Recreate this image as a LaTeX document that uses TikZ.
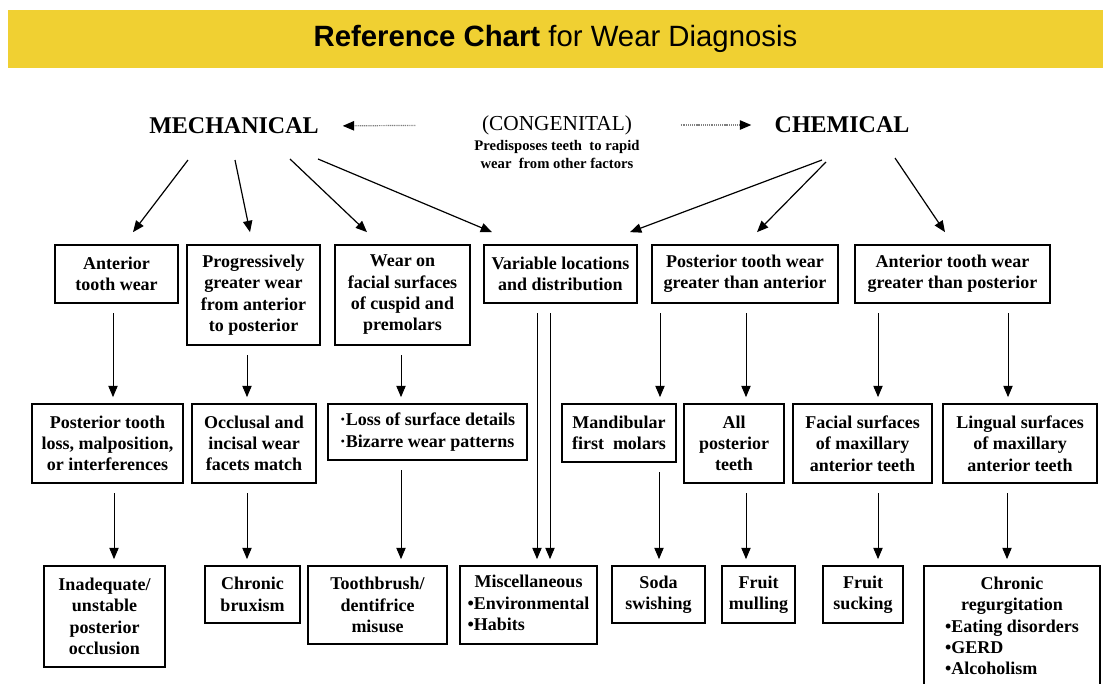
\documentclass[tikz,border=0pt]{standalone}
\usepackage{fontspec}
\setmainfont{Liberation Serif}
\setsansfont{Liberation Sans}
\usetikzlibrary{positioning,arrows.meta,calc}
\definecolor{titleyellow}{RGB}{240,208,50}
\tikzset{
	box/.style={draw, line width=1.3pt, align=center, inner sep=0pt, font=\fontsize{13.5}{16}\selectfont\bfseries},
	boxsize/.style n args={2}{minimum width=#1*0.75pt, minimum height=#2*0.75pt},
	head/.style={font=\fontsize{18}{20}\selectfont\bfseries},
	arr/.style={line width=0.9pt, -{Triangle[length=8.5pt,width=7pt]}},
	down/.style={arr, line width=0.75pt, shorten <=7pt, shorten >=4.5pt},
	dotarr/.style={gray, line width=0.9pt, dash pattern=on 0.8pt off 0.6pt, -{Triangle[length=8.5pt,width=7pt,color=black]}},
}
\begin{document}
\begin{tikzpicture}[x=0.75pt, y=-0.75pt]
	\useasboundingbox (0,0) rectangle (1107,683);
	\clip (0,0) rectangle (1107,683);
	\node[fill=titleyellow, minimum width=1095*0.75pt, minimum height=58*0.75pt, font=\sffamily\fontsize{22}{26}\selectfont] (title) at (555.5,39) {\textbf{Reference Chart} for Wear Diagnosis};
	\node[head] (mech) at (234,126) {MECHANICAL};
	\node[head] (chem) at (842,125) {CHEMICAL};
	\node[font=\fontsize{16}{18}\selectfont] (cong) at (557,125) {(CONGENITAL)};
	\node[font=\fontsize{11}{13.5}\selectfont\bfseries, align=center] (cause) at (557,154) {Predisposes teeth\ \ to rapid\\wear\ \ from other factors};
	\draw[dotarr, shorten <=46.5pt, shorten >=14.5pt] (cong.west) -- (mech.east);
	\draw[dotarr, shorten <=33pt, shorten >=14pt] (cong.east) -- (chem.west);

	\node[box, boxsize={123}{58}] (B1) at (116.5,274) {Anterior\\tooth wear};
	\node[box, boxsize={133}{100}] (B2) at (253.5,295) {Progressively\\greater wear\\from anterior\\to posterior};
	\node[box, boxsize={135}{100}] (B3) at (402.5,295) {Wear on\\facial surfaces\\of cuspid and\\premolars};
	\node[box, boxsize={153}{58}] (B4) at (560.5,274) {Variable locations\\and distribution};
	\node[box, boxsize={186}{58}] (B5) at (745,274) {Posterior tooth wear\\greater than anterior};
	\node[box, boxsize={195}{58}] (B6) at (952.5,274) {Anterior tooth wear\\greater than posterior};

	\node[box, boxsize={151}{79}] (C1) at (107.5,443.5) {Posterior tooth\\loss, malposition,\\or interferences};
	\node[box, boxsize={124}{79}] (C2) at (254,443.5) {Occlusal and\\incisal wear\\facets match};
	\node[box, boxsize={199}{56}, align=left] (C3) at (427.5,432) {\textperiodcentered Loss of surface details\\\textperiodcentered Bizarre wear patterns};
	\node[box, boxsize={114}{58}] (C4) at (619,433) {Mandibular\\first\ \ molars};
	\node[box, boxsize={100}{79}] (C5) at (734,443.5) {All\\posterior\\teeth};
	\node[box, boxsize={139}{79}] (C6) at (862.5,443.5) {Facial surfaces\\of maxillary\\anterior teeth};
	\node[box, boxsize={154}{79}] (C7) at (1020,443.5) {Lingual surfaces\\of maxillary\\anterior teeth};

	\node[box, boxsize={121}{101}] (D1) at (104.5,616.5) {Inadequate/\\unstable\\posterior\\occlusion};
	\node[box, boxsize={95}{57}] (D2) at (252.5,594.5) {Chronic\\bruxism};
	\node[box, boxsize={139}{78}] (D3) at (377.5,605) {Toothbrush/\\dentifrice\\misuse};
	\node[box, boxsize={137}{78}] (D4) at (528.5,605) {\begin{tabular}{@{}l@{}}\multicolumn{1}{@{}c@{}}{Miscellaneous}\\\textbullet Environmental\\\textbullet Habits\end{tabular}};
	\node[box, boxsize={93}{57}] (D5) at (658.5,594.5) {Soda\\swishing};
	\node[box, boxsize={73}{57}] (D6) at (758.5,594.5) {Fruit\\mulling};
	\node[box, boxsize={80}{57}] (D7) at (863,594.5) {Fruit\\sucking};
	\node[box, boxsize={176}{124}] (D8) at (1012,628) {\begin{tabular}{@{}l@{}}\multicolumn{1}{@{}c@{}}{Chronic}\\\multicolumn{1}{@{}c@{}}{regurgitation}\\\textbullet Eating disorders\\\textbullet GERD\\\textbullet Alcoholism\end{tabular}};

	\draw[arr] ($(mech)+(-46,34)$) -- ($(B1.north)+(16.5,-12)$);
	\draw[arr] ($(mech)+(1,34)$) -- ($(B2.north)+(-3.5,-12)$);
	\draw[arr] ($(mech)+(56,33)$) -- ($(B3.north)+(-35.5,-12)$);
	\draw[arr] ($(mech)+(84,33)$) -- ($(B4.north)+(-68.5,-12)$);
	\draw[arr] ($(chem)+(-20,35)$) -- ($(B4.north)+(69.5,-12)$);
	\draw[arr] ($(chem)+(-16,37)$) -- ($(B5.north)+(12,-12)$);
	\draw[arr] ($(chem)+(53,33)$) -- ($(B6.north)+(-7.5,-12)$);

	\draw[down] (B1.south -| 113,0) -- (C1.north -| 113,0);
	\draw[down] (B2.south -| 247,0) -- (C2.north -| 247,0);
	\draw[down] (B3.south -| 401,0) -- (C3.north -| 401,0);
	\draw[down] (B5.south -| 660,0) -- (C4.north -| 660,0);
	\draw[down] (B5.south -| 746,0) -- (C5.north -| 746,0);
	\draw[down] (B6.south -| 878,0) -- (C6.north -| 878,0);
	\draw[down] (B6.south -| 1008,0) -- (C7.north -| 1008,0);
	\draw[down] (B4.south -| 537,0) -- (D4.north -| 537,0);
	\draw[down] (B4.south -| 550,0) -- (D4.north -| 550,0);

	\draw[down] (C1.south -| 114,0) -- (D1.north -| 114,0);
	\draw[down] (C2.south -| 247,0) -- (D2.north -| 247,0);
	\draw[down] (C3.south -| 401,0) -- (D3.north -| 401,0);
	\draw[down] (C4.south -| 659,0) -- (D5.north -| 659,0);
	\draw[down] (C5.south -| 746,0) -- (D6.north -| 746,0);
	\draw[down] (C6.south -| 878,0) -- (D7.north -| 878,0);
	\draw[down] (C7.south -| 1007,0) -- (D8.north -| 1007,0);
\end{tikzpicture}
\end{document}
